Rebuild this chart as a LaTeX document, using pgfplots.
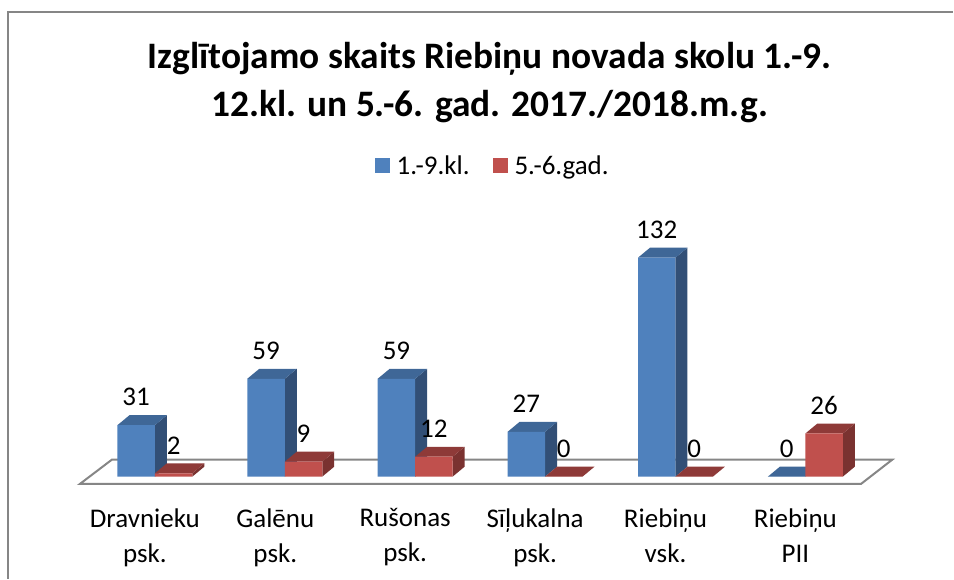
\documentclass[border=0pt]{standalone}
\usepackage{pgfplots}
\pgfplotsset{compat=1.18}
\usepackage{fontspec}
\setmainfont{Carlito}
\definecolor{bf}{HTML}{4F81BD}
\definecolor{bt}{HTML}{3F6797}
\definecolor{bs}{HTML}{324F76}
\definecolor{rf}{HTML}{C0504D}
\definecolor{rt}{HTML}{8E3A38}
\definecolor{rs}{HTML}{7A3230}
\definecolor{gl}{HTML}{868686}
\newcommand\poly[2]{\addplot[fill=#1,draw=none,forget plot] coordinates {#2} -- cycle;}
\begin{document}
\begin{tikzpicture}
\begin{axis}[
  scale only axis, width=954pt, height=579pt,
  xmin=0, xmax=954, ymin=-61.45, ymax=287.35,
  clip=false,
  axis line style={draw=none},
  major tick length=0pt,
  ytick=\empty,
  xtick={145,275.5,405.5,535.5,666,796},
  xticklabels={Dravnieku\\psk.,Galēnu\\psk.,Rušonas\\psk.,Sīļukalna\\psk.,Riebiņu\\vsk.,Riebiņu\\PII},
  xtick pos=bottom,
  x tick label style={align=center,anchor=north,yshift=73.5pt,font=\fontsize{27}{35}\selectfont},
  /pgf/number format/assume math mode=true,
  legend columns=2,
  legend cell align=left,
  legend style={at={(0.5168,0.7133)},anchor=center,draw=none,fill=none,
    font=\fontsize{27}{30}\selectfont,/tikz/every even column/.append style={column sep=21pt}},
]
% frame
\addplot[draw=gl,line width=1.5pt,forget plot] coordinates {(8,-61.45) (8,280.1) (954,280.1)};
% floor
\addplot[draw=gl,fill=white,line width=2pt,forget plot] coordinates {(80,-4.4) (861.7,-4.4) (893,10.24) (112,10.24)} -- cycle;
% blue depth faces
\poly{bs}{(155,0) (155,31) (167,37) (167,6)}
\poly{bt}{(117.5,31) (155,31) (167,37) (129.5,37)}
\poly{bs}{(285,0) (285,59) (297,65) (297,6)}
\poly{bt}{(247.5,59) (285,59) (297,65) (259.5,65)}
\poly{bs}{(415.5,0) (415.5,59) (427.5,65) (427.5,6)}
\poly{bt}{(378,59) (415.5,59) (427.5,65) (390,65)}
\poly{bs}{(545.5,0) (545.5,27) (557.5,33) (557.5,6)}
\poly{bt}{(508,27) (545.5,27) (557.5,33) (520,33)}
\poly{bs}{(676,0) (676,132) (688,138) (688,6)}
\poly{bt}{(638.5,132) (676,132) (688,138) (650.5,138)}
\poly{bt}{(768.5,0) (806,0) (818,6) (780.5,6)}
% blue fronts
\addplot[ybar,bar width=37.5pt,bar shift=-18.75pt,fill=bf,draw=none,
  area legend,
  legend image code/.code={\fill[bf] (0pt,-7.5pt) rectangle (15pt,7.5pt);},
  nodes near coords,
  nodes near coords style={anchor=center,xshift=-18.75pt,yshift=28pt,text=black,font=\fontsize{27}{30}\selectfont}]
  coordinates {(155,31) (285,59) (415.5,59) (545.5,27) (676,132) (806,0)};
\addlegendentry{\hspace{5pt}1.-9.kl.}
% red depth faces
\poly{rs}{(192.5,0) (192.5,2) (204.5,8) (204.5,6)}
\poly{rt}{(155,2) (192.5,2) (204.5,8) (167,8)}
\poly{rs}{(322.5,0) (322.5,9) (334.5,15) (334.5,6)}
\poly{rt}{(285,9) (322.5,9) (334.5,15) (297,15)}
\poly{rs}{(453,0) (453,12) (465,18) (465,6)}
\poly{rt}{(415.5,12) (453,12) (465,18) (427.5,18)}
\poly{rt}{(545.5,0) (583,0) (595,6) (557.5,6)}
\poly{rt}{(676,0) (713.5,0) (725.5,6) (688,6)}
\poly{rs}{(843.5,0) (843.5,26) (855.5,32) (855.5,6)}
\poly{rt}{(806,26) (843.5,26) (855.5,32) (818,32)}
% red fronts
\addplot[ybar,bar width=37.5pt,bar shift=18.75pt,fill=rf,draw=none,
  area legend,
  legend image code/.code={\fill[rf] (0pt,-7.5pt) rectangle (15pt,7.5pt);},
  nodes near coords,
  nodes near coords style={anchor=center,xshift=18.75pt,yshift=28pt,text=black,font=\fontsize{27}{30}\selectfont}]
  coordinates {(155,2) (285,9) (415.5,12) (545.5,0) (676,0) (806,26)};
\addlegendentry{\hspace{5pt}5.-6.gad.}
\node[align=center,font=\fontsize{37.4}{48}\bfseries\selectfont,anchor=center] at (axis cs:490,237.7)
  {Izglītojamo skaits Riebiņu novada skolu 1.-9.\\12.kl. un 5.-6. gad. 2017./2018.m.g.};
\end{axis}
\end{tikzpicture}
\end{document}
